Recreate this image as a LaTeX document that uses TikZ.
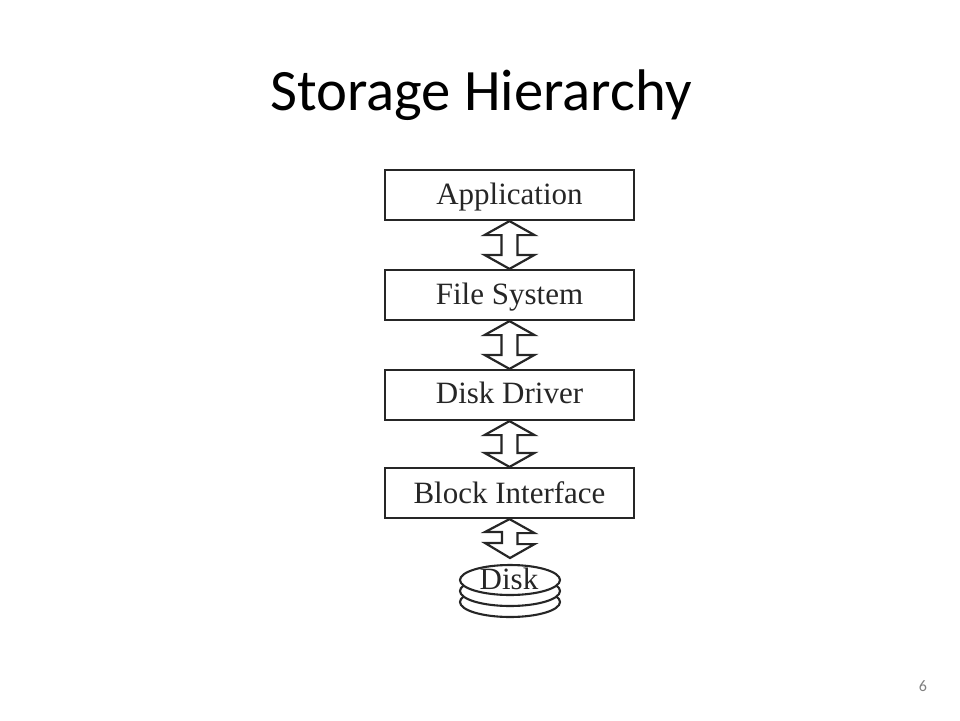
\documentclass[tikz,border=0pt]{standalone}
\usepackage{fontspec}
\setmainfont{Liberation Serif}
\newfontfamily\titlefont{Carlito}
\tikzset{
  x=1pt,y=-1pt,
  layerbox/.style={draw=black!85,line width=2.2pt,minimum width=249pt,minimum height=50pt,inner sep=0pt,text height=24pt,text depth=6pt,font=\fontsize{31}{32}\selectfont,text=black!85},
  arrowline/.style={draw=black!85,line width=2.2pt,line join=miter},
  diskline/.style={draw=black!85,line width=2.1pt,fill=white}
}
\begin{document}
\begin{tikzpicture}
\useasboundingbox (0,0) rectangle (960,720);
\node[font=\titlefont\fontsize{58.67}{60}\selectfont,text=black] (title) at (481,95.5) {Storage Hierarchy};
\node[layerbox] (app) at (509.5,195) {Application};
\node[layerbox] (fs) at (509.5,295) {File System};
\node[layerbox,text depth=7pt] (drv) at (509.5,395) {Disk Driver};
\node[layerbox,text depth=3pt] (blk) at (509.5,493) {Block Interface};
\foreach \a/\b in {app/fs,fs/drv,drv/blk}{
  \path (\a.south) coordinate (t) (\b.north) coordinate (u);
  \draw[arrowline] (t) -- ++(25,14) -- ++(-17,0) |- ([shift={(8,-14)}]u) -- ++(17,0) -- (u) -- ++(-25,-14) -- ++(17,0) |- ([shift={(-8,14)}]t) -- ++(-17,0) -- cycle;
}
\coordinate (tip) at (510,558);
\draw[arrowline] (blk.south) -- ++(25,14) -- ++(-17,0) -- ++(0,11) -- ++(17,0) -- (tip) -- ++(-25,-15) -- ++(17,0) -- ++(0,-11) -- ++(-17,0) -- cycle;
\draw[diskline] (510,602) ellipse [x radius=50,y radius=15];
\draw[diskline] (510,591) ellipse [x radius=50,y radius=15];
\draw[diskline] (510,580) ellipse [x radius=50,y radius=15];
\node[font=\fontsize{31}{32}\selectfont,text=black!85,inner sep=0pt,text height=24pt,text depth=4pt] (disk) at (509,579) {Disk};
\node[font=\titlefont\fontsize{16}{18}\selectfont,text=black!50] (page) at (923,686) {6};
\end{tikzpicture}
\end{document}
